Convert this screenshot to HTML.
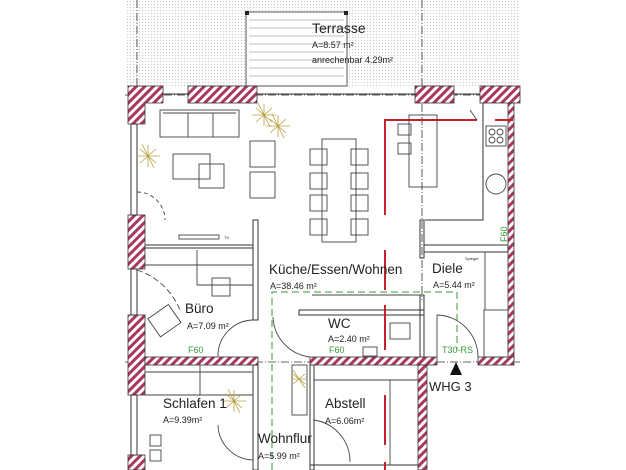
<!DOCTYPE html>
<html><head><meta charset="utf-8"><style>
html,body{margin:0;padding:0;background:#fff;}
svg{display:block;}
text{font-family:"Liberation Sans",sans-serif;fill:#222;}
.g{fill:#3a9a3a;font-size:9px;}
</style></head><body>
<svg width="626" height="470" viewBox="0 0 626 470" xmlns="http://www.w3.org/2000/svg">
<defs>
<pattern id="dots" width="3" height="3" patternUnits="userSpaceOnUse"><rect width="3" height="3" fill="#fff"/><circle cx="1.5" cy="1.5" r="0.6" fill="#c8c8c8"/></pattern>
<pattern id="h" width="6" height="6" patternUnits="userSpaceOnUse" patternTransform="rotate(45)"><rect width="6" height="6" fill="#fff"/><rect width="3" height="6" fill="#a8385f"/></pattern>
</defs>
<rect x="125" y="0" width="395" height="86" fill="url(#dots)"/>
<rect x="246" y="12" width="101" height="74" fill="#fff" stroke="#555" stroke-width="1"/>
<g stroke="#aaa" stroke-width="0.8">
<line x1="249" y1="20" x2="344" y2="20"/><line x1="249" y1="28" x2="344" y2="28"/><line x1="249" y1="36" x2="344" y2="36"/><line x1="249" y1="44" x2="344" y2="44"/><line x1="249" y1="52" x2="344" y2="52"/><line x1="249" y1="60" x2="344" y2="60"/><line x1="249" y1="68" x2="344" y2="68"/><line x1="249" y1="76" x2="344" y2="76"/>
</g>
<rect x="245" y="11" width="4" height="4" fill="#222"/><rect x="344" y="11" width="4" height="4" fill="#222"/>
<g stroke="#333" stroke-width="0.8" stroke-dasharray="8,2,1,2" fill="none">
<line x1="137" y1="0" x2="137" y2="86"/><line x1="422" y1="0" x2="422" y2="300"/>
<line x1="125" y1="95" x2="520" y2="95"/><line x1="125" y1="362" x2="520" y2="362"/>
</g>
<g fill="url(#h)" stroke="#333" stroke-width="0.8">
<path d="M128 86 H163 V103 H145 V124 H128 Z"/>
<rect x="188" y="86" width="69" height="17"/>
<rect x="415" y="86" width="39" height="17"/>
<rect x="480" y="86" width="40" height="17"/>
<rect x="508" y="103" width="6" height="258"/>
<rect x="128" y="215" width="17" height="54"/>
<rect x="128" y="315" width="17" height="80"/>
<rect x="128" y="455" width="17" height="15"/>
<rect x="145" y="357" width="113" height="8"/>
<rect x="310" y="357" width="127" height="8"/>
<rect x="478" y="357" width="36" height="8"/>
<rect x="418" y="365" width="9" height="105"/>
</g>
<g stroke="#333" stroke-width="1" fill="none">
<line x1="163" y1="94" x2="188" y2="94"/><line x1="257" y1="94" x2="415" y2="94"/><line x1="454" y1="94" x2="480" y2="94"/>
<rect x="131" y="124" width="6" height="91"/><rect x="131" y="269" width="6" height="46"/><rect x="131" y="395" width="6" height="60"/>
<rect x="253" y="220" width="5" height="100"/><rect x="253" y="365" width="5" height="105"/>
<line x1="145" y1="245" x2="253" y2="245"/><line x1="145" y1="248" x2="253" y2="248"/>
<rect x="299" y="310" width="125" height="5"/>
<rect x="420" y="295" width="4" height="62"/>
<rect x="420" y="220" width="4" height="38"/>
<rect x="424" y="245" width="84" height="7"/>
<rect x="310" y="365" width="4" height="105"/>
<path d="M425 220 H483 V103"/>
<line x1="310" y1="465" x2="418" y2="465"/>
</g>
<g stroke="#c8202a" stroke-width="2" fill="none">
<path d="M385 215 V120 H477"/>
<line x1="495" y1="120" x2="513" y2="120"/>
<line x1="385" y1="250" x2="385" y2="290"/><line x1="385" y1="305" x2="385" y2="350"/>
<line x1="385" y1="395" x2="385" y2="445"/><line x1="385" y1="462" x2="385" y2="470"/>
</g>
<g stroke="#3a9a3a" stroke-width="1" stroke-dasharray="7,4" fill="none">
<path d="M272 470 V292 H457 V350"/>
</g>
<g stroke="#444" stroke-width="0.9" fill="none">
<rect x="160" y="110" width="79" height="27"/><line x1="188" y1="113" x2="188" y2="137"/><line x1="213" y1="113" x2="213" y2="137"/><line x1="163" y1="113" x2="236" y2="113"/>
<rect x="173" y="154" width="37" height="25"/><rect x="199" y="164" width="25" height="24"/>
<rect x="250" y="141" width="25" height="26"/><rect x="250" y="172" width="25" height="26"/>
<rect x="322" y="139" width="34" height="103"/>
<rect x="310" y="149" width="17" height="16"/><rect x="310" y="173" width="17" height="16"/><rect x="310" y="195" width="17" height="16"/><rect x="310" y="219" width="17" height="16"/>
<rect x="351" y="149" width="17" height="16"/><rect x="351" y="173" width="17" height="16"/><rect x="351" y="195" width="17" height="16"/><rect x="351" y="219" width="17" height="16"/>
<rect x="409" y="115" width="28" height="72"/><rect x="398" y="124" width="13" height="11"/><rect x="398" y="143" width="13" height="11"/>
<rect x="486" y="126" width="20" height="20"/><circle cx="492" cy="132" r="3"/><circle cx="500" cy="132" r="3"/><circle cx="492" cy="140" r="3"/><circle cx="500" cy="140" r="3"/>
<circle cx="496" cy="184" r="10"/>
<rect x="179" y="235" width="40" height="4"/>
<line x1="145" y1="265" x2="253" y2="265"/><line x1="197" y1="250" x2="197" y2="285"/><line x1="197" y1="285" x2="253" y2="285"/>
<rect x="212" y="278" width="18" height="18"/>
<rect x="152" y="310" width="25" height="22" transform="rotate(-35 164 321)"/>
<line x1="145" y1="372" x2="253" y2="372"/><line x1="200" y1="365" x2="200" y2="395"/><line x1="145" y1="395" x2="253" y2="395"/>
<rect x="150" y="435" width="11" height="11"/><rect x="150" y="450" width="11" height="11"/>
<rect x="292" y="365" width="15" height="50"/>
<line x1="314" y1="380" x2="418" y2="380"/><line x1="390" y1="380" x2="390" y2="465"/>
<rect x="390" y="323" width="20" height="16"/><rect x="363" y="347" width="14" height="9"/>
<line x1="312" y1="295" x2="420" y2="295"/>
<line x1="485" y1="252" x2="485" y2="310"/><rect x="484" y="310" width="24" height="47"/>
<line x1="477" y1="120" x2="470" y2="110"/>
<path d="M137 192 A28 28 0 0 1 165 220" stroke-dasharray="4,3"/>
<path d="M137 270 A70 70 0 0 1 180 310" stroke-dasharray="6,3"/>
<path d="M218 357 A36 36 0 0 1 253 320"/>
<path d="M273 317 A42 42 0 0 0 310 357"/>
<path d="M437 315 A42 42 0 0 1 478 357"/><line x1="437" y1="315" x2="437" y2="357"/>
<path d="M218 425 A36 36 0 0 0 253 460"/>
<path d="M314 420 A42 42 0 0 1 350 462"/>
</g>
<g stroke="#b8a040" stroke-width="0.8">
<path d="M258 103 l12 24 M252 115 l24 0 M256 108 l16 14 M256 122 l16 -14 M264 104 l0 22"/>
<path d="M272 114 l12 24 M266 126 l24 0 M270 119 l16 14 M270 133 l16 -14 M278 115 l0 22"/>
<path d="M142 144 l12 24 M136 156 l24 0 M140 149 l16 14 M140 163 l16 -14 M148 145 l0 22"/>
<path d="M228 389 l12 24 M222 401 l24 0 M226 394 l16 14 M226 408 l16 -14 M234 390 l0 22"/>
<path d="M293 370 l12 18 M291 379 l16 0 M293 374 l12 10 M293 384 l12 -10"/>
</g>
<polygon points="456,362 450,375 462,375" fill="#111"/>
<text x="312" y="33" font-size="14">Terrasse</text>
<text x="312" y="48" font-size="9">A=8.57 m²</text>
<text x="312" y="63" font-size="9">anrechenbar 4.29m²</text>
<text x="269" y="274" font-size="13.5">Küche/Essen/Wohnen</text>
<text x="270" y="289" font-size="9">A=38.46 m²</text>
<text x="432" y="273" font-size="13.5">Diele</text>
<text x="433" y="288" font-size="9">A=5.44 m²</text>
<text x="185" y="313" font-size="13.5">Büro</text>
<text x="187" y="329" font-size="9">A=7.09 m²</text>
<text x="328" y="328" font-size="13.5">WC</text>
<text x="328" y="342" font-size="9">A=2.40 m²</text>
<text class="g" x="188" y="353">F60</text>
<text class="g" x="329" y="353">F60</text>
<text class="g" x="442" y="353">T30-RS</text>
<text class="g" x="0" y="0" transform="translate(507 242) rotate(-90)">F60</text>
<text x="429" y="391" font-size="13">WHG 3</text>
<text x="163" y="408" font-size="13.5">Schlafen 1</text>
<text x="163" y="423" font-size="9">A=9.39m²</text>
<text x="325" y="408" font-size="13.5">Abstell</text>
<text x="325" y="424" font-size="9">A=6.06m²</text>
<text x="258" y="443" font-size="13.5">Wohnflur</text>
<text x="258" y="459" font-size="9">A=5.99 m²</text>
<text x="224" y="239" font-size="4">TV</text>
<text x="465" y="260" font-size="4">Spiegel</text>
</svg>
</body></html>
